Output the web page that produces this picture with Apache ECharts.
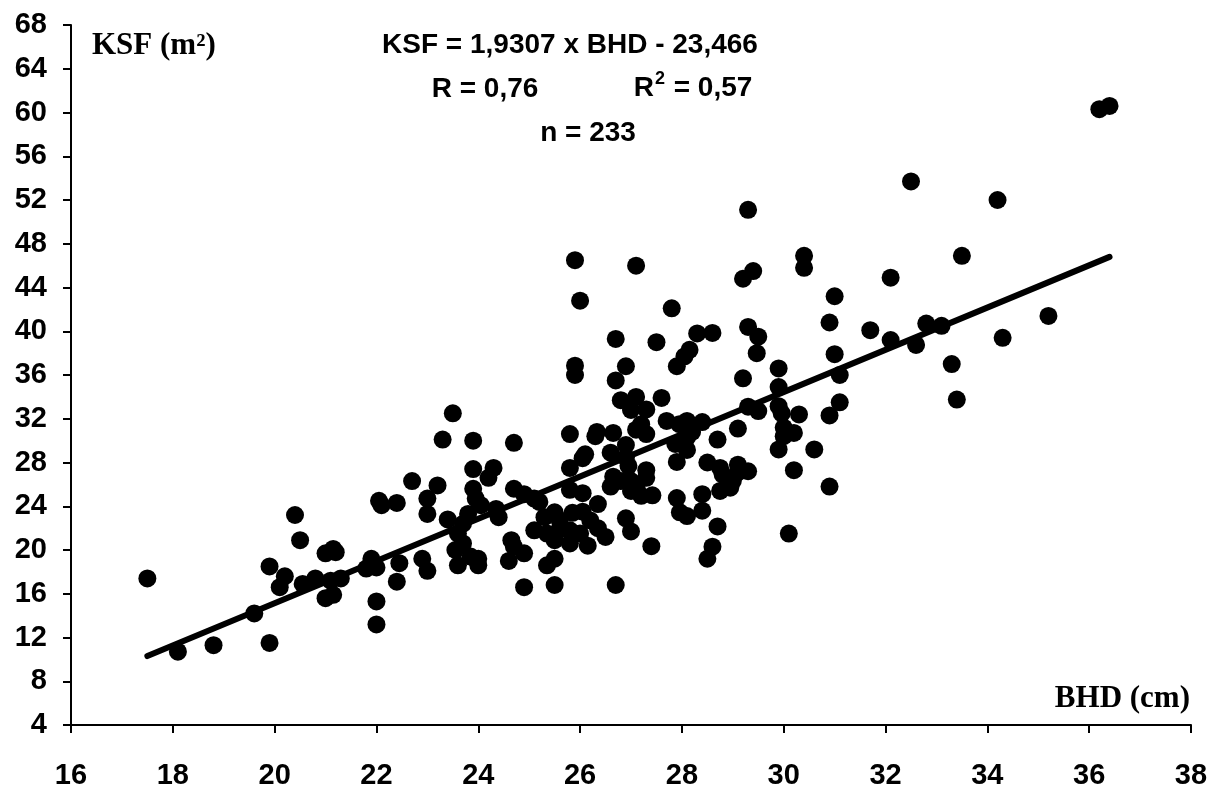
<!DOCTYPE html>
<html>
<head>
<meta charset="utf-8">
<script src="https://cdn.jsdelivr.net/npm/echarts@6/dist/echarts.min.js"></script>
<style>
  html, body { margin: 0; padding: 0; background: #fff; }
  #chart { width: 1219px; height: 790px; }
</style>
</head>
<body>
<div id="chart"></div>
<script>
// BHD (cm) of each tree
const bhd = [
  17.5, 18.1, 18.8, 19.6, 19.9, 19.9, 20.1, 20.2, 20.4, 20.5,
  20.55, 20.8, 21.0, 21.15, 21.2, 21.0, 21.15, 21.1, 21.3, 21.8,
  21.9, 22.0, 22.0, 22.0, 22.05, 22.1, 22.4, 22.45, 22.4, 22.7,
  22.9, 23.0, 23.0, 23.0, 23.2, 23.3, 23.4, 23.5,
  23.6, 23.7, 23.55, 23.6, 23.85, 24.0, 24.0, 23.8, 23.7, 23.9,
  23.9, 23.9, 23.95, 24.05, 24.3, 24.2, 24.35, 24.4, 24.7, 24.7,
  24.9, 25.1, 25.2, 24.65, 24.7, 24.9, 24.6, 24.9, 25.3, 25.5,
  25.6, 25.1, 25.35, 25.5, 25.6, 25.35, 25.5, 25.5,
  25.8, 26.05, 25.85, 26.05, 25.8, 25.8, 26.0, 26.15, 26.35, 26.2,
  26.35, 26.5, 26.1, 26.05, 25.8, 26.6, 26.65, 26.8, 26.6, 26.9,
  26.95, 27.0, 26.9, 27.0, 25.8, 26.33, 26.3, 26.65, 27.1, 27.2,
  27.3, 25.9, 27.1, 26.0, 26.7, 25.9, 25.9, 26.9, 26.7, 26.8,
  27.1, 27.0, 27.3, 27.6, 26.9, 27.3, 27.0, 27.2, 27.42, 27.11,
  27.3, 27.4, 26.7, 27.5,
  27.7, 27.95, 28.1, 28.4, 28.2, 28.1, 28.1, 27.9, 27.87, 28.5,
  28.75, 29.1, 29.3, 28.8, 29.0, 28.75, 28.95, 29.1, 27.9, 28.4,
  28.4, 28.1, 27.96, 28.7, 28.6, 28.5, 28.3, 28.6, 28.15, 28.05,
  27.9, 27.8, 29.3, 29.3, 29.5, 29.47, 29.2, 29.4, 30.4, 30.4,
  31.0, 30.9, 31.7, 31.0, 31.1, 29.9, 29.9, 29.2, 29.3, 29.5,
  29.9, 29.96, 30.3, 30.0, 30.2, 30.0, 29.9, 30.6, 30.2, 30.9,
  30.1, 30.9, 31.1, 29.1, 28.7,
  32.1, 32.1, 32.6, 32.8, 33.1, 33.3, 33.4, 34.3, 35.2, 33.5,
  32.5, 34.2, 36.2, 36.4
];

// KSF (m²) matching the bhd list
const ksf = [
  17.4, 10.7, 11.3, 14.2, 11.5, 18.5, 16.6, 17.6, 23.2, 20.9,
  16.9, 17.4, 19.7, 20.1, 19.8, 15.6, 15.9, 17.2, 17.4, 18.3,
  19.2, 18.4, 15.3, 13.2, 24.5, 24.1, 24.3, 18.8, 17.1, 26.3,
  19.2, 24.7, 23.3, 18.1, 25.9, 30.1, 22.8, 32.5,
  21.5, 20.6, 20.0, 18.6, 19.4, 19.2, 18.6, 23.3, 22.4, 27.4,
  30.0, 25.6, 24.7, 24.1, 27.5, 26.6, 23.75, 23.0, 29.8, 25.6,
  25.1, 24.7, 24.4, 20.9, 20.3, 19.7, 19.0, 16.6, 23.0, 23.45,
  22.7, 21.8, 21.5, 20.9, 21.9, 18.6, 19.2, 16.8,
  25.5, 25.2, 23.4, 23.5, 21.8, 20.6, 21.5, 20.4, 24.2, 22.7,
  22.0, 21.2, 28.75, 28.4, 27.5, 28.9, 26.7, 26.3, 25.8, 29.6,
  27.7, 25.4, 22.9, 21.7, 30.6, 30.8, 30.4, 30.7, 31.0, 31.5,
  30.6, 46.5, 46.0, 42.8, 39.3, 36.85, 36.0, 36.8, 35.5, 33.7,
  34.0, 32.8, 32.85, 33.9, 28.45, 27.3, 26.3, 24.95, 25.0, 25.7,
  26.6, 20.35, 16.8, 39.0,
  31.8, 31.5, 31.8, 31.7, 30.8, 30.3, 29.15, 28.05, 29.7, 28.0,
  27.5, 27.8, 27.2, 26.9, 26.3, 25.4, 25.7, 27.1, 24.75, 25.1,
  23.6, 23.1, 23.45, 22.15, 20.3, 19.2, 39.8, 39.85, 38.3, 37.7,
  36.8, 42.1, 51.1, 40.4, 39.5, 38.0, 44.8, 45.5, 46.9, 45.8,
  43.2, 40.8, 40.1, 37.9, 36.0, 36.6, 34.9, 35.7, 33.1, 32.7,
  33.15, 32.5, 32.4, 31.2, 30.7, 30.4, 29.2, 29.2, 27.3, 25.8,
  21.5, 32.3, 33.5, 31.1, 30.1,
  44.9, 39.2, 38.75, 40.7, 40.5, 37.0, 33.75, 39.4, 41.4, 46.9,
  53.7, 52.0, 60.3, 60.6
];

// ends of the drawn regression line
const fitX = [17.5, 36.4];
const fitY = [10.3, 46.8];

const labelFont = '"Liberation Sans", Arial, sans-serif';
const serifFont = '"Liberation Serif", "Times New Roman", serif';

var points = [];
for (let i = 0; i < bhd.length; i++) {
  points.push([bhd[i], ksf[i]]);
}
var fit = [];
for (let i = 0; i < fitX.length; i++) {
  fit.push([fitX[i], fitY[i]]);
}

const chart = echarts.init(document.getElementById('chart'));

var axisCommon = {
  type: 'value',
  axisLine: { show: true, lineStyle: { color: '#000', width: 2 } },
  axisTick: { show: true, inside: false, length: 8, lineStyle: { color: '#000', width: 2 } },
  splitLine: { show: false },
  axisLabel: {
    color: '#000',
    fontFamily: labelFont,
    fontWeight: 'bold',
    fontSize: 29
  }
};

var statFont = 'bold 28px ' + labelFont;

var option = {
  animation: false,
  backgroundColor: '#fff',
  grid: {
    left: 71,
    right: 28,
    top: 25,
    bottom: 61
  },
  xAxis: Object.assign({}, axisCommon, {
    min: 16,
    max: 38,
    interval: 2,
    axisLabel: Object.assign({}, axisCommon.axisLabel, { margin: 36 })
  }),
  yAxis: Object.assign({}, axisCommon, {
    min: 4,
    max: 68,
    interval: 4,
    axisLabel: Object.assign({}, axisCommon.axisLabel, { margin: 24 })
  }),
  graphic: [
    {
      type: 'text', left: 92, top: 30,
      style: { text: 'KSF (m²)', font: 'bold 31px ' + serifFont, fill: '#000' }
    },
    {
      type: 'text', right: 29, top: 683,
      style: { text: 'BHD (cm)', font: 'bold 31px ' + serifFont, fill: '#000' }
    },
    {
      type: 'text', x: 570, y: 45,
      style: { text: 'KSF = 1,9307 x BHD - 23,466', font: statFont, fill: '#000', align: 'center', verticalAlign: 'middle' }
    },
    {
      type: 'text', x: 485, y: 89,
      style: { text: 'R = 0,76', font: statFont, fill: '#000', align: 'center', verticalAlign: 'middle' }
    },
    {
      type: 'text', x: 693, y: 86,
      style: {
        text: '{b|R}{s|2}{b| = 0,57}',
        fill: '#000',
        align: 'center',
        verticalAlign: 'middle',
        rich: {
          b: { font: statFont, fill: '#000', lineHeight: 32, verticalAlign: 'bottom' },
          s: { font: 'bold 18px ' + labelFont, fill: '#000', lineHeight: 32, verticalAlign: 'top', padding: [0, 1, 0, 1] }
        }
      }
    },
    {
      type: 'text', x: 588, y: 133,
      style: { text: 'n = 233', font: statFont, fill: '#000', align: 'center', verticalAlign: 'middle' }
    }
  ],
  series: [
    {
      name: 'Bäume',
      type: 'scatter',
      symbol: 'circle',
      symbolSize: 18,
      itemStyle: { color: '#000', opacity: 1 },
      data: points,
      z: 2
    },
    {
      name: 'Regression',
      type: 'line',
      showSymbol: false,
      symbol: 'none',
      lineStyle: { color: '#000', width: 6, cap: 'round' },
      data: fit,
      z: 3
    }
  ]
};

chart.setOption(option);
</script>
</body>
</html>
